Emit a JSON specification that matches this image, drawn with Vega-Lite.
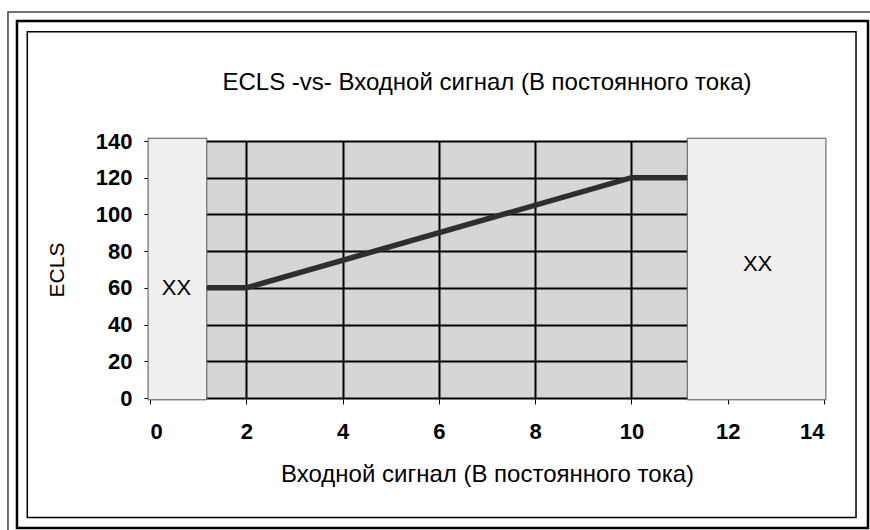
{
  "$schema": "https://vega.github.io/schema/vega-lite/v6.json",
  "autosize": {"type": "none"},
  "padding": {"left": 150, "top": 141, "right": 46, "bottom": 132},
  "width": 674,
  "height": 257,
  "background": "white",
  "config": {
    "font": "Liberation Sans",
    "view": {"fill": "#d6d6d6", "stroke": null}
  },
  "title": {
    "text": "ECLS -vs- Входной сигнал (В постоянного тока)",
    "frame": "group",
    "anchor": "middle",
    "baseline": "alphabetic",
    "fontSize": 24,
    "fontWeight": "normal",
    "font": "Liberation Sans",
    "color": "black",
    "offset": -103
  },
  "datasets": {
    "signal": [
      {"input": 1.18, "ecls": 60},
      {"input": 2, "ecls": 60},
      {"input": 10, "ecls": 120},
      {"input": 11.16, "ecls": 120}
    ],
    "zones": [
      {"x0": -0.04, "x1": 1.18, "y0": -1, "y1": 141.5, "label": "XX", "lx": 0.55, "ly": 60},
      {"x0": 11.16, "x1": 14.04, "y0": -1, "y1": 141.5, "label": "XX", "lx": 12.62, "ly": 73}
    ]
  },
  "layer": [
    {
      "data": {"name": "zones"},
      "mark": {"type": "rect", "fill": "#efefef", "stroke": "#555555", "strokeWidth": 1},
      "encoding": {
        "x": {
          "field": "x0", "type": "quantitative",
          "scale": {"domain": [0, 14], "nice": false, "zero": false},
          "axis": {
            "values": [0, 2, 4, 6, 8, 10, 12, 14],
            "title": "Входной сигнал (В постоянного тока)",
            "titleFont": "Liberation Sans",
            "titleFontSize": 24,
            "titleFontWeight": "normal",
            "titleColor": "black",
            "titlePadding": 20,
            "labelFont": "Liberation Sans",
            "labelFontSize": 22,
            "labelFontWeight": "bold",
            "labelColor": "black",
            "labelPadding": 17,
            "labelOverlap": false,
            "tickColor": "black",
            "tickSize": 6,
            "domainColor": "black",
            "grid": true,
            "gridColor": "black",
            "gridWidth": 2,
            "gridOpacity": 1
          }
        },
        "x2": {"field": "x1"},
        "y": {
          "field": "y0", "type": "quantitative",
          "scale": {"domain": [0, 140], "nice": false, "zero": false},
          "axis": {
            "values": [0, 20, 40, 60, 80, 100, 120, 140],
            "tickCount": 8,
            "title": "ECLS",
            "titleFont": "Liberation Sans",
            "titleFontSize": 21,
            "titleFontWeight": "normal",
            "titleColor": "black",
            "titlePadding": 28,
            "labelFont": "Liberation Sans",
            "labelFontSize": 22,
            "labelFontWeight": "bold",
            "labelColor": "black",
            "labelPadding": 12,
            "labelOverlap": false,
            "tickColor": "black",
            "tickSize": 6,
            "domain": false,
            "grid": true,
            "gridColor": "black",
            "gridWidth": 2,
            "gridOpacity": 1
          }
        },
        "y2": {"field": "y1"}
      }
    },
    {
      "data": {"name": "zones"},
      "mark": {"type": "text", "fontSize": 22, "font": "Liberation Sans", "color": "black", "align": "center", "baseline": "middle"},
      "encoding": {
        "x": {"field": "lx", "type": "quantitative"},
        "y": {"field": "ly", "type": "quantitative"},
        "text": {"field": "label"}
      }
    },
    {
      "data": {"name": "signal"},
      "mark": {"type": "line", "color": "#2e2e2e", "strokeWidth": 5.5, "strokeCap": "butt", "strokeJoin": "miter"},
      "encoding": {
        "x": {"field": "input", "type": "quantitative"},
        "y": {"field": "ecls", "type": "quantitative"}
      }
    },
    {
      "data": {"values": [{}]},
      "mark": {"type": "rect", "fillOpacity": 0, "stroke": "#444444", "strokeWidth": 1.5},
      "encoding": {
        "x": {"datum": -2.95}, "x2": {"datum": 15.2},
        "y": {"datum": 210.27}, "y2": {"datum": -75}
      }
    },
    {
      "data": {"values": [{}]},
      "mark": {"type": "rect", "fillOpacity": 0, "stroke": "black", "strokeWidth": 2.5},
      "encoding": {
        "x": {"datum": -2.763}, "x2": {"datum": 14.914},
        "y": {"datum": 205.37}, "y2": {"datum": -70.82}
      }
    },
    {
      "data": {"values": [{}]},
      "mark": {"type": "rect", "fillOpacity": 0, "stroke": "black", "strokeWidth": 1.5},
      "encoding": {
        "x": {"datum": -2.549}, "x2": {"datum": 14.665},
        "y": {"datum": 199.54}, "y2": {"datum": -65.1}
      }
    }
  ]
}
